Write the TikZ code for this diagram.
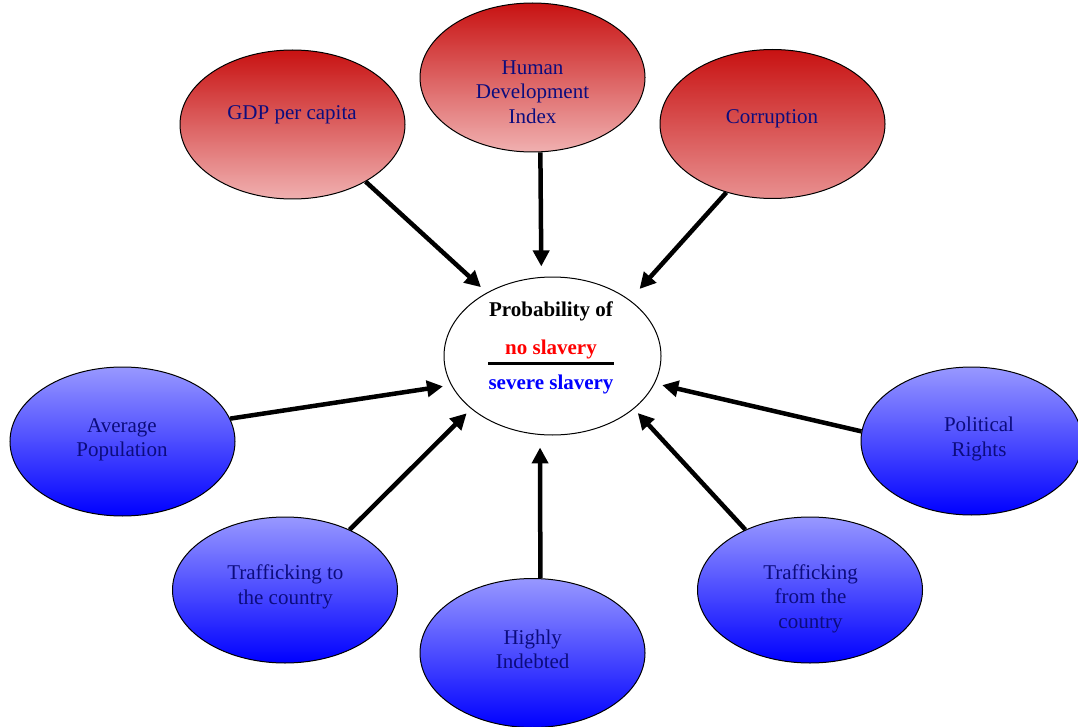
\documentclass[tikz,border=0pt]{standalone}
\usepackage{fontspec}
\setmainfont{Liberation Serif}
\usetikzlibrary{shapes.geometric, arrows.meta}

\definecolor{navytext}{RGB}{12,12,125}
\definecolor{redtop}{RGB}{200,18,18}
\definecolor{redbot}{RGB}{240,176,176}
\definecolor{redbotdark}{RGB}{232,144,144}
\definecolor{bluetop}{RGB}{152,152,255}
\definecolor{bluebot}{RGB}{0,0,255}

\tikzset{
  blob/.style={ellipse, draw=black, line width=1pt, inner sep=0pt,
    minimum width=225pt, minimum height=149pt},
  redblob/.style={blob, top color=redtop, bottom color=redbot},
  blueblob/.style={blob, top color=bluetop, bottom color=bluebot},
  lbl/.style={align=center, text=navytext, font=\fontsize{21}{24.5}\selectfont},
  arr/.style={line width=4.5pt, -{Triangle[length=16pt,width=16pt]}},
}

\begin{document}
\begin{tikzpicture}[x=1pt, y=-1pt]
            \useasboundingbox (0,0) rectangle (1078,727);

            % outer factors
            \node[redblob] (gdp) at (292.5,124.5) {};
            \node[redblob] (hdi) at (532.5,77.5) {};
            \node[redblob, bottom color=redbotdark] (corr) at (772.5,124) {};
            \node[blueblob] (avgpop) at (122.5,441.5) {};
            \node[blueblob, minimum width=221pt, minimum height=148pt] (polit) at (971.5,441) {};
            \node[blueblob, minimum height=146pt] (trafto) at (285,590) {};
            \node[blueblob, minimum height=146pt] (traffrom) at (810,590) {};
            \node[blueblob] (indebt) at (532.5,653) {};

            \node[lbl] (gdptxt) at (292,115) {GDP per capita};
            \node[lbl] (hditxt) at (532.5,92) {Human\\Development\\Index};
            \node[lbl] (corrtxt) at (772,118.5) {Corruption};
            \node[lbl] (avgpoptxt) at (122,440) {Average\\Population};
            \node[lbl] (polittxt) at (979,439) {Political\\Rights};
            \node[lbl] (traftotxt) at (285.3,587) {Trafficking to\\the country};
            \node[lbl] (traffromtxt) at (810.5,598.5) {Trafficking\\from the\\country};
            \node[lbl] (indebttxt) at (532.7,649.5) {Highly\\Indebted};

            % centre
            \node[blob, fill=white, minimum width=217pt, minimum height=158pt] (prob) at (552.5,356) {};
            \node[align=center, font=\fontsize{21}{24.5}\selectfont\bfseries] (probtxt) at (551,348)
                {Probability of\\[12.8pt]\textcolor{red}{no slavery}\\[-13.7pt]\rule{126pt}{3pt}\\\textcolor{blue}{severe slavery}};

            \foreach \src/\a/\b/\gap in {gdp/-38.4/136.8/8, hdi/-84.3/98.7/10.5, corr/-124/36.4/14.7,
                avgpop/12.3/196/8.2, trafto/43.9/213.1/6.3, indebt/84.3/-99/12.5,
                traffrom/137.2/-33.2/5.7, polit/175.2/-15.6/7.6} {
                \draw[arr, shorten >=\gap pt] (\src.\a) -- (prob.\b);
            }
\end{tikzpicture}
\end{document}
